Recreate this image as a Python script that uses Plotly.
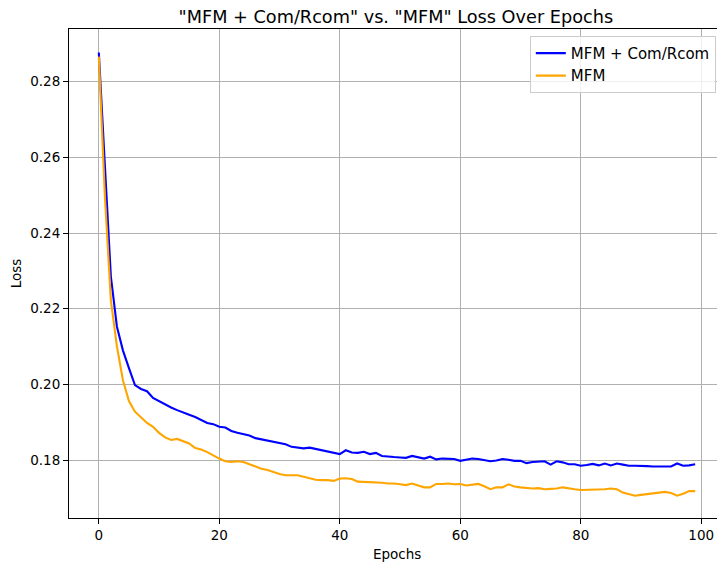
import plotly.graph_objects as go

epochs = list(range(100))

mfm_com_rcom = [0.2877, 0.2565, 0.2285, 0.2153, 0.2090, 0.2043, 0.1998, 0.1988, 0.1982, 0.1964,
                0.1955, 0.1947, 0.1939, 0.1932, 0.1925, 0.1920, 0.1914, 0.1905, 0.1898, 0.1895,
                0.1888, 0.1886, 0.1877, 0.1872, 0.1869, 0.1865, 0.1858, 0.1855, 0.1850, 0.1847,
                0.1844, 0.1842, 0.1835, 0.1833, 0.1831, 0.1833, 0.1830, 0.1826, 0.1824, 0.1820,
                0.1816, 0.1826, 0.1820, 0.1819, 0.1822, 0.1816, 0.1819, 0.1811, 0.1809, 0.1808,
                0.1807, 0.1806, 0.1811, 0.1808, 0.1804, 0.1809, 0.1802, 0.1804, 0.1804, 0.1803,
                0.1798, 0.1802, 0.1804, 0.1803, 0.1800, 0.1797, 0.1799, 0.1803, 0.1801, 0.1798,
                0.1798, 0.1792, 0.1795, 0.1796, 0.1797, 0.1788, 0.1797, 0.1794, 0.1789, 0.1789,
                0.1785, 0.1787, 0.1790, 0.1786, 0.1791, 0.1786, 0.1791, 0.1788, 0.1785, 0.1785,
                0.1785, 0.1784, 0.1783, 0.1783, 0.1782, 0.1783, 0.1791, 0.1785, 0.1786, 0.1789]

mfm = [0.2866, 0.2500, 0.2222, 0.2101, 0.2011, 0.1956, 0.1928, 0.1913, 0.1898, 0.1888,
       0.1872, 0.1860, 0.1853, 0.1856, 0.1849, 0.1844, 0.1832, 0.1828, 0.1821, 0.1812,
       0.1804, 0.1797, 0.1795, 0.1797, 0.1795, 0.1789, 0.1782, 0.1777, 0.1774, 0.1768,
       0.1763, 0.1760, 0.1760, 0.1760, 0.1756, 0.1752, 0.1748, 0.1747, 0.1747, 0.1745,
       0.1751, 0.1752, 0.1750, 0.1743, 0.1742, 0.1743, 0.1742, 0.1740, 0.1738, 0.1738,
       0.1736, 0.1734, 0.1738, 0.1732, 0.1728, 0.1728, 0.1737, 0.1737, 0.1738, 0.1736,
       0.1737, 0.1733, 0.1734, 0.1737, 0.1731, 0.1723, 0.1728, 0.1728, 0.1736, 0.1730,
       0.1728, 0.1726, 0.1725, 0.1726, 0.1723, 0.1724, 0.1725, 0.1728, 0.1725, 0.1723,
       0.1721, 0.1721, 0.1723, 0.1721, 0.1723, 0.1725, 0.1723, 0.1714, 0.1709, 0.1706,
       0.1708, 0.1711, 0.1712, 0.1714, 0.1716, 0.1713, 0.1706, 0.1711, 0.1718, 0.1718]

x_ticks = [0, 20, 40, 60, 80, 100]
y_ticks = [0.18, 0.20, 0.22, 0.24, 0.26, 0.28]

FONT = "DejaVu Sans"

fig = go.Figure()
fig.add_trace(go.Scatter(x=epochs, y=mfm_com_rcom, mode="lines", name="MFM + Com/Rcom",
                         line=dict(color="blue", width=2.1)))
fig.add_trace(go.Scatter(x=epochs, y=mfm, mode="lines", name="MFM",
                         line=dict(color="orange", width=2.1)))

axis_common = dict(
    showline=True, mirror=True, linecolor="black", linewidth=1,
    ticks="outside", ticklen=5, tickwidth=1, tickcolor="black",
    showgrid=True, gridcolor="#b0b0b0", gridwidth=1,
    zeroline=False,
    tickfont=dict(family=FONT, size=13.5, color="black"),
)

# the page body adds an 8px offset; margins compensate so the plot lands where the reference has it
fig.update_layout(
    width=725, height=562,
    margin=dict(l=61, r=8, t=21, b=52),
    paper_bgcolor="white", plot_bgcolor="white",
    font=dict(family=FONT, color="black"),
    title=dict(text='"MFM + Com/Rcom" vs. "MFM" Loss Over Epochs',
               x=0.535, xanchor="center", y=1.0, yanchor="top", pad=dict(t=3, b=0),
               font=dict(family=FONT, size=17.7, color="black")),
    xaxis=dict(range=[-4.95, 103.95], tickvals=x_ticks, automargin=False,
               **axis_common),
    yaxis=dict(range=[0.1647, 0.2939], tickvals=y_ticks, tickformat=".2f", automargin=False,
               title=dict(text="Loss", standoff=11,
                          font=dict(family=FONT, size=13.5, color="black")),
               **axis_common),
    legend=dict(x=0.986, y=0.986, xanchor="right", yanchor="top",
                bgcolor="rgba(255,255,255,0.8)", bordercolor="#cccccc", borderwidth=1,
                font=dict(family=FONT, size=15, color="black"),
                tracegroupgap=0, itemwidth=30),
    showlegend=True,
    annotations=[dict(text="Epochs", xref="paper", yref="paper", x=0.5, y=-0.0736,
                      xanchor="center", yanchor="middle", showarrow=False,
                      font=dict(family=FONT, size=13.5, color="black"))],
)

fig.write_html("out.html")
